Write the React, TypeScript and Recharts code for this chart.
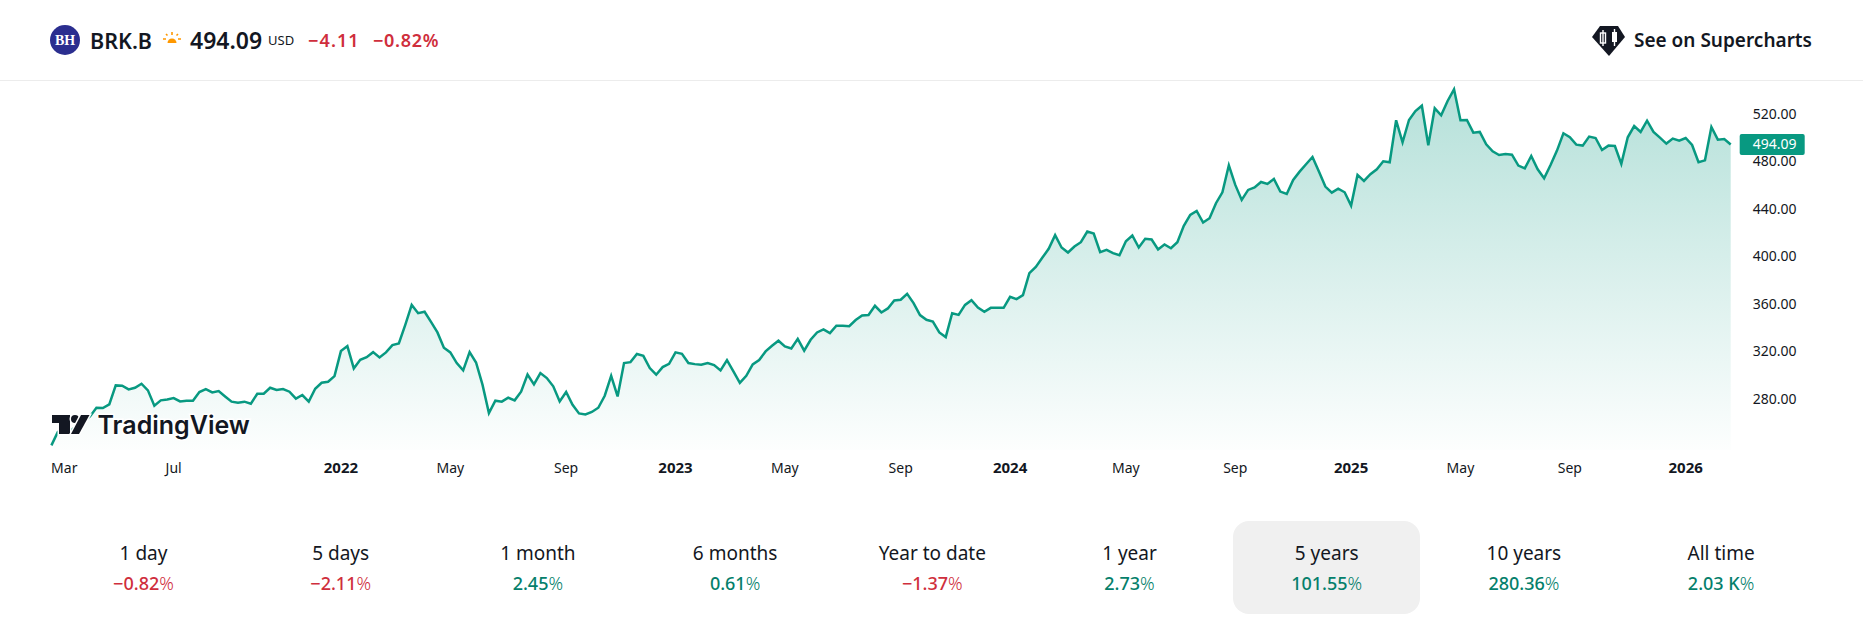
import { AreaChart, Area, XAxis, YAxis } from "recharts";

// weekly closes
const closes = [
  240.7, 252, 252.5, 253.3, 256.7, 260.9, 265.1, 272.4, 272.1, 275.2, 291.2, 290.9, 287.8, 289.2, 292.6, 287, 274.1, 278.6,
  279.4, 280.5, 277.7, 278.3, 278.3, 285.6, 288.1, 285.3, 286.4, 281.9, 277.5, 276.6, 277.5, 275.8, 284.2, 284.2, 289.2, 287.3,
  288.1, 285.9, 280, 283.1, 277.5, 288.4, 293.4, 294.3, 299, 320.1, 324.3, 305.5, 312.8, 315, 319.2, 314.7, 319, 325.1,
  326.5, 342.2, 359, 352, 353.2, 344.7, 335.8, 322.9, 319, 310, 303.8, 319.2, 310.5, 291.8, 267.9, 278.3, 277.5, 280.8,
  278.6, 285.9, 300.4, 292, 301.6, 297.4, 290.4, 277.7, 285.6, 274.9, 267.6, 266.8, 268.8, 272.4, 282.5, 299.3, 281.9, 310,
  310.8, 317.6, 316.1, 305.8, 300.2, 306.6, 309.4, 319, 317.8, 310, 309.1, 308.6, 310, 308.3, 303.8, 312.5, 303, 293.4,
  299.3, 308.9, 312.5, 319.8, 324.6, 328.8, 324, 322.3, 330.4, 320.4, 329.6, 335.8, 338.3, 335.2, 341.4, 341.4, 341.1, 346.2,
  350.1, 350.4, 358.2, 352.6, 356, 362.7, 363.3, 368.3, 360.5, 350.4, 346.4, 345, 335.8, 331.9, 352, 350.6, 359, 363,
  356.8, 353.2, 356.5, 356.5, 356.5, 365.8, 363.8, 367.2, 385.7, 391, 398.6, 406.2, 417.7, 407.3, 403.1, 408.1, 411.8, 420.7,
  419.1, 403.4, 405.3, 402.5, 400.8, 412.6, 417.4, 407.3, 414.6, 414, 405.6, 409.8, 406.7, 411.8, 425.5, 434.8, 438.1, 428.3,
  432, 444.6, 453.8, 476.5, 460, 447.4, 455.8, 457.8, 462.5, 460.8, 465, 454.4, 452.4, 464.2, 471.2, 477.4, 483.5, 471.2,
  458.6, 453.5, 456.9, 453.8, 442.6, 468.4, 463.4, 469, 473.2, 479.9, 479.1, 514.4, 495.9, 514.7, 522.2, 526.7, 493.4, 524.5,
  518.6, 530.7, 540.5, 514.4, 514.7, 504, 504.6, 494.2, 488.3, 485.2, 486.1, 485.5, 476.3, 474, 484.4, 473.2, 465.6, 476.8,
  488.9, 503.5, 500.1, 493.9, 493.1, 500.7, 499.5, 489.4, 493.1, 492.8, 477.7, 500.1, 509.6, 504.6, 514.1, 504.6, 499.8, 494.8,
  499, 497.3, 499.5, 493.6, 479.1, 480.7, 508.8, 498.1, 498.7, 494.09,
];

const monthLabels = ["Mar", "Jul", "2022", "May", "Sep", "2023", "May", "Sep", "2024", "May", "Sep", "2025", "May", "Sep", "2026"];
const monthWeeks = [2, 19, 45, 62, 80, 97, 114, 132, 149, 167, 184, 202, 219, 236, 254];
const priceTicks = [280, 320, 360, 400, 440, 480, 520];
const lastPrice = 494.09;

const periods = ["1 day", "5 days", "1 month", "6 months", "Year to date", "1 year", "5 years", "10 years", "All time"];
const periodChanges = ["−0.82", "−2.11", "2.45", "0.61", "−1.37", "2.73", "101.55", "280.36", "2.03 K"];
const selectedPeriod = "5 years";

const chartData = closes.map((close, week) => ({ week, close }));

const GREEN = "#089981";
const FONT = "'Noto Sans', sans-serif";

function MonthTick({ x, y, payload }: any) {
  const label = monthLabels[monthWeeks.indexOf(payload.value)];
  const isYear = /^\d+$/.test(label);
  return (
    <text x={x} y={y} dy={15} textAnchor="middle" fontFamily={FONT} fontSize={isYear ? 15 : 14} fontWeight={isYear ? 700 : 400} fill="#131722">
      {label}
    </text>
  );
}

function PriceTick({ x, y, payload }: any) {
  if (payload.value === lastPrice) {
    return (
      <g>
        <rect x={x + 1} y={y - 10.5} width={65} height={21} rx={2} fill={GREEN} />
        <text x={x + 36} y={y + 5} textAnchor="middle" fontFamily={FONT} fontSize={14} fill="#fff">
          {lastPrice.toFixed(2)}
        </text>
      </g>
    );
  }
  return (
    <text x={x + 36} y={y + 5} textAnchor="middle" fontFamily={FONT} fontSize={14} fill="#131722">
      {payload.value.toFixed(2)}
    </text>
  );
}

function Header() {
  const abs = (left: number, size: number, weight: number, color: string, spacing = 0): React.CSSProperties => ({
    position: "absolute",
    left,
    top: 40 - size,
    height: size * 2,
    lineHeight: `${size * 2}px`,
    fontFamily: FONT,
    fontSize: size,
    fontWeight: weight,
    color,
    letterSpacing: spacing,
    whiteSpace: "nowrap",
  });
  return (
    <>
      <svg width={40} height={40} style={{ position: "absolute", left: 45, top: 20 }}>
        <circle cx={20} cy={20} r={15} fill="#2b2e8f" />
        <text x={20} y={25} textAnchor="middle" fontFamily="'Liberation Serif', serif" fontWeight={700} fontSize={14} fill="#fff">
          BH
        </text>
      </svg>
      <div style={abs(90, 21.5, 600, "#131722")}>BRK.B</div>
      <svg width={20} height={14} style={{ position: "absolute", left: 162, top: 32 }}>
        <path d="M5.5 11a4.5 4.5 0 0 1 9 0z" fill="#ff9800" />
        <path d="M1 7h3M16 7h3M10 0v3M4 2l1.500 1.500M16 2l-1.500 1.500" stroke="#ff9800" strokeWidth={1.6} />
      </svg>
      <div style={abs(190, 23, 600, "#131722")}>494.09</div>
      <div style={abs(268, 13, 400, "#131722")}>USD</div>
      <div style={abs(308, 18, 600, "#cf2e3c", 1.1)}>−4.11</div>
      <div style={abs(373, 18, 600, "#cf2e3c", 0.7)}>−0.82%</div>
      <svg width={34} height={32} style={{ position: "absolute", left: 1592, top: 25 }}>
        <path d="M8 1h18l7 11-16 19L0 12z" fill="#131722" />
        <rect x={8.5} y={8} width={5} height={10} fill="none" stroke="#fff" strokeWidth={1.4} />
        <path d="M11 5v16" stroke="#fff" strokeWidth={1.4} />
        <rect x={20} y={7} width={5} height={10} fill="#fff" />
        <path d="M22.500 4v17" stroke="#fff" strokeWidth={1.4} />
      </svg>
      <div style={abs(1634, 19, 600, "#131722")}>See on Supercharts</div>
      <div style={{ position: "absolute", left: 0, top: 80, width: 1863, height: 1, background: "#ececec" }} />
    </>
  );
}

function Logo() {
  return (
    <svg width={220} height={40} style={{ position: "absolute", left: 48, top: 405 }}>
      <g fill="#131722" stroke="#fff" strokeWidth={3} paintOrder="stroke">
        <path d="M4 10h18v19H11V18H4z" />
        <circle cx={27} cy={14} r={4} />
        <path d="M33 10h8.500L31 29H23z" />
        <text x={49.5} y={29} fontFamily="Inter, sans-serif" fontWeight={600} fontSize={25}>
          TradingView
        </text>
      </g>
    </svg>
  );
}

function PeriodRow() {
  return (
    <>
      {periods.map((name, idx) => {
        const change = periodChanges[idx];
        const down = change.startsWith("−");
        const selected = name === selectedPeriod;
        const center = 143.5 + idx * 197.2;
        return (
          <div
            key={name}
            style={{
              position: "absolute",
              left: center - 93.5,
              top: 521,
              width: 187,
              height: 93,
              borderRadius: 16,
              background: selected ? "#f0f0f0" : "transparent",
              textAlign: "center",
              fontFamily: FONT,
            }}
          >
            <div style={{ marginTop: 20, height: 24, lineHeight: "24px", fontSize: 19, color: "#131722" }}>{name}</div>
            <div style={{ marginTop: 6, height: 24, lineHeight: "24px", fontSize: 18, fontWeight: 500, color: down ? "#cf2e3c" : "#057f6b" }}>
              {change}
              <span style={{ fontWeight: 300 }}>%</span>
            </div>
          </div>
        );
      })}
    </>
  );
}

export default function App() {
  return (
    <div style={{ position: "absolute", left: 0, top: 0, width: 1863, height: 632, background: "#fff", overflow: "hidden" }}>
      <Header />
      <div style={{ position: "absolute", left: 0, top: 0 }}>
        <AreaChart width={1863} height={500} data={chartData} margin={{ top: 81, right: 0, bottom: 0, left: 51.4 }}>
          <defs>
            <linearGradient id="closeFill" x1="0" y1="0" x2="0" y2="1">
              <stop offset="0%" stopColor={GREEN} stopOpacity={0.3} />
              <stop offset="100%" stopColor={GREEN} stopOpacity={0.01} />
            </linearGradient>
          </defs>
          <XAxis
            dataKey="week"
            type="number"
            domain={[0, closes.length - 1]}
            ticks={monthWeeks}
            interval={0}
            height={50}
            axisLine={false}
            tickLine={false}
            tick={<MonthTick />}
          />
          <YAxis
            orientation="right"
            width={132.3}
            domain={[236.8, 547.5]}
            allowDataOverflow
            ticks={[...priceTicks, lastPrice]}
            interval={0}
            axisLine={false}
            tickLine={false}
            tick={<PriceTick />}
          />
          <Area
            type="linear"
            dataKey="close"
            stroke={GREEN}
            strokeWidth={2.5}
            fill="url(#closeFill)"
            fillOpacity={1}
            dot={false}
            activeDot={false}
            isAnimationActive={false}
          />
        </AreaChart>
      </div>
      <Logo />
      <PeriodRow />
    </div>
  );
}
